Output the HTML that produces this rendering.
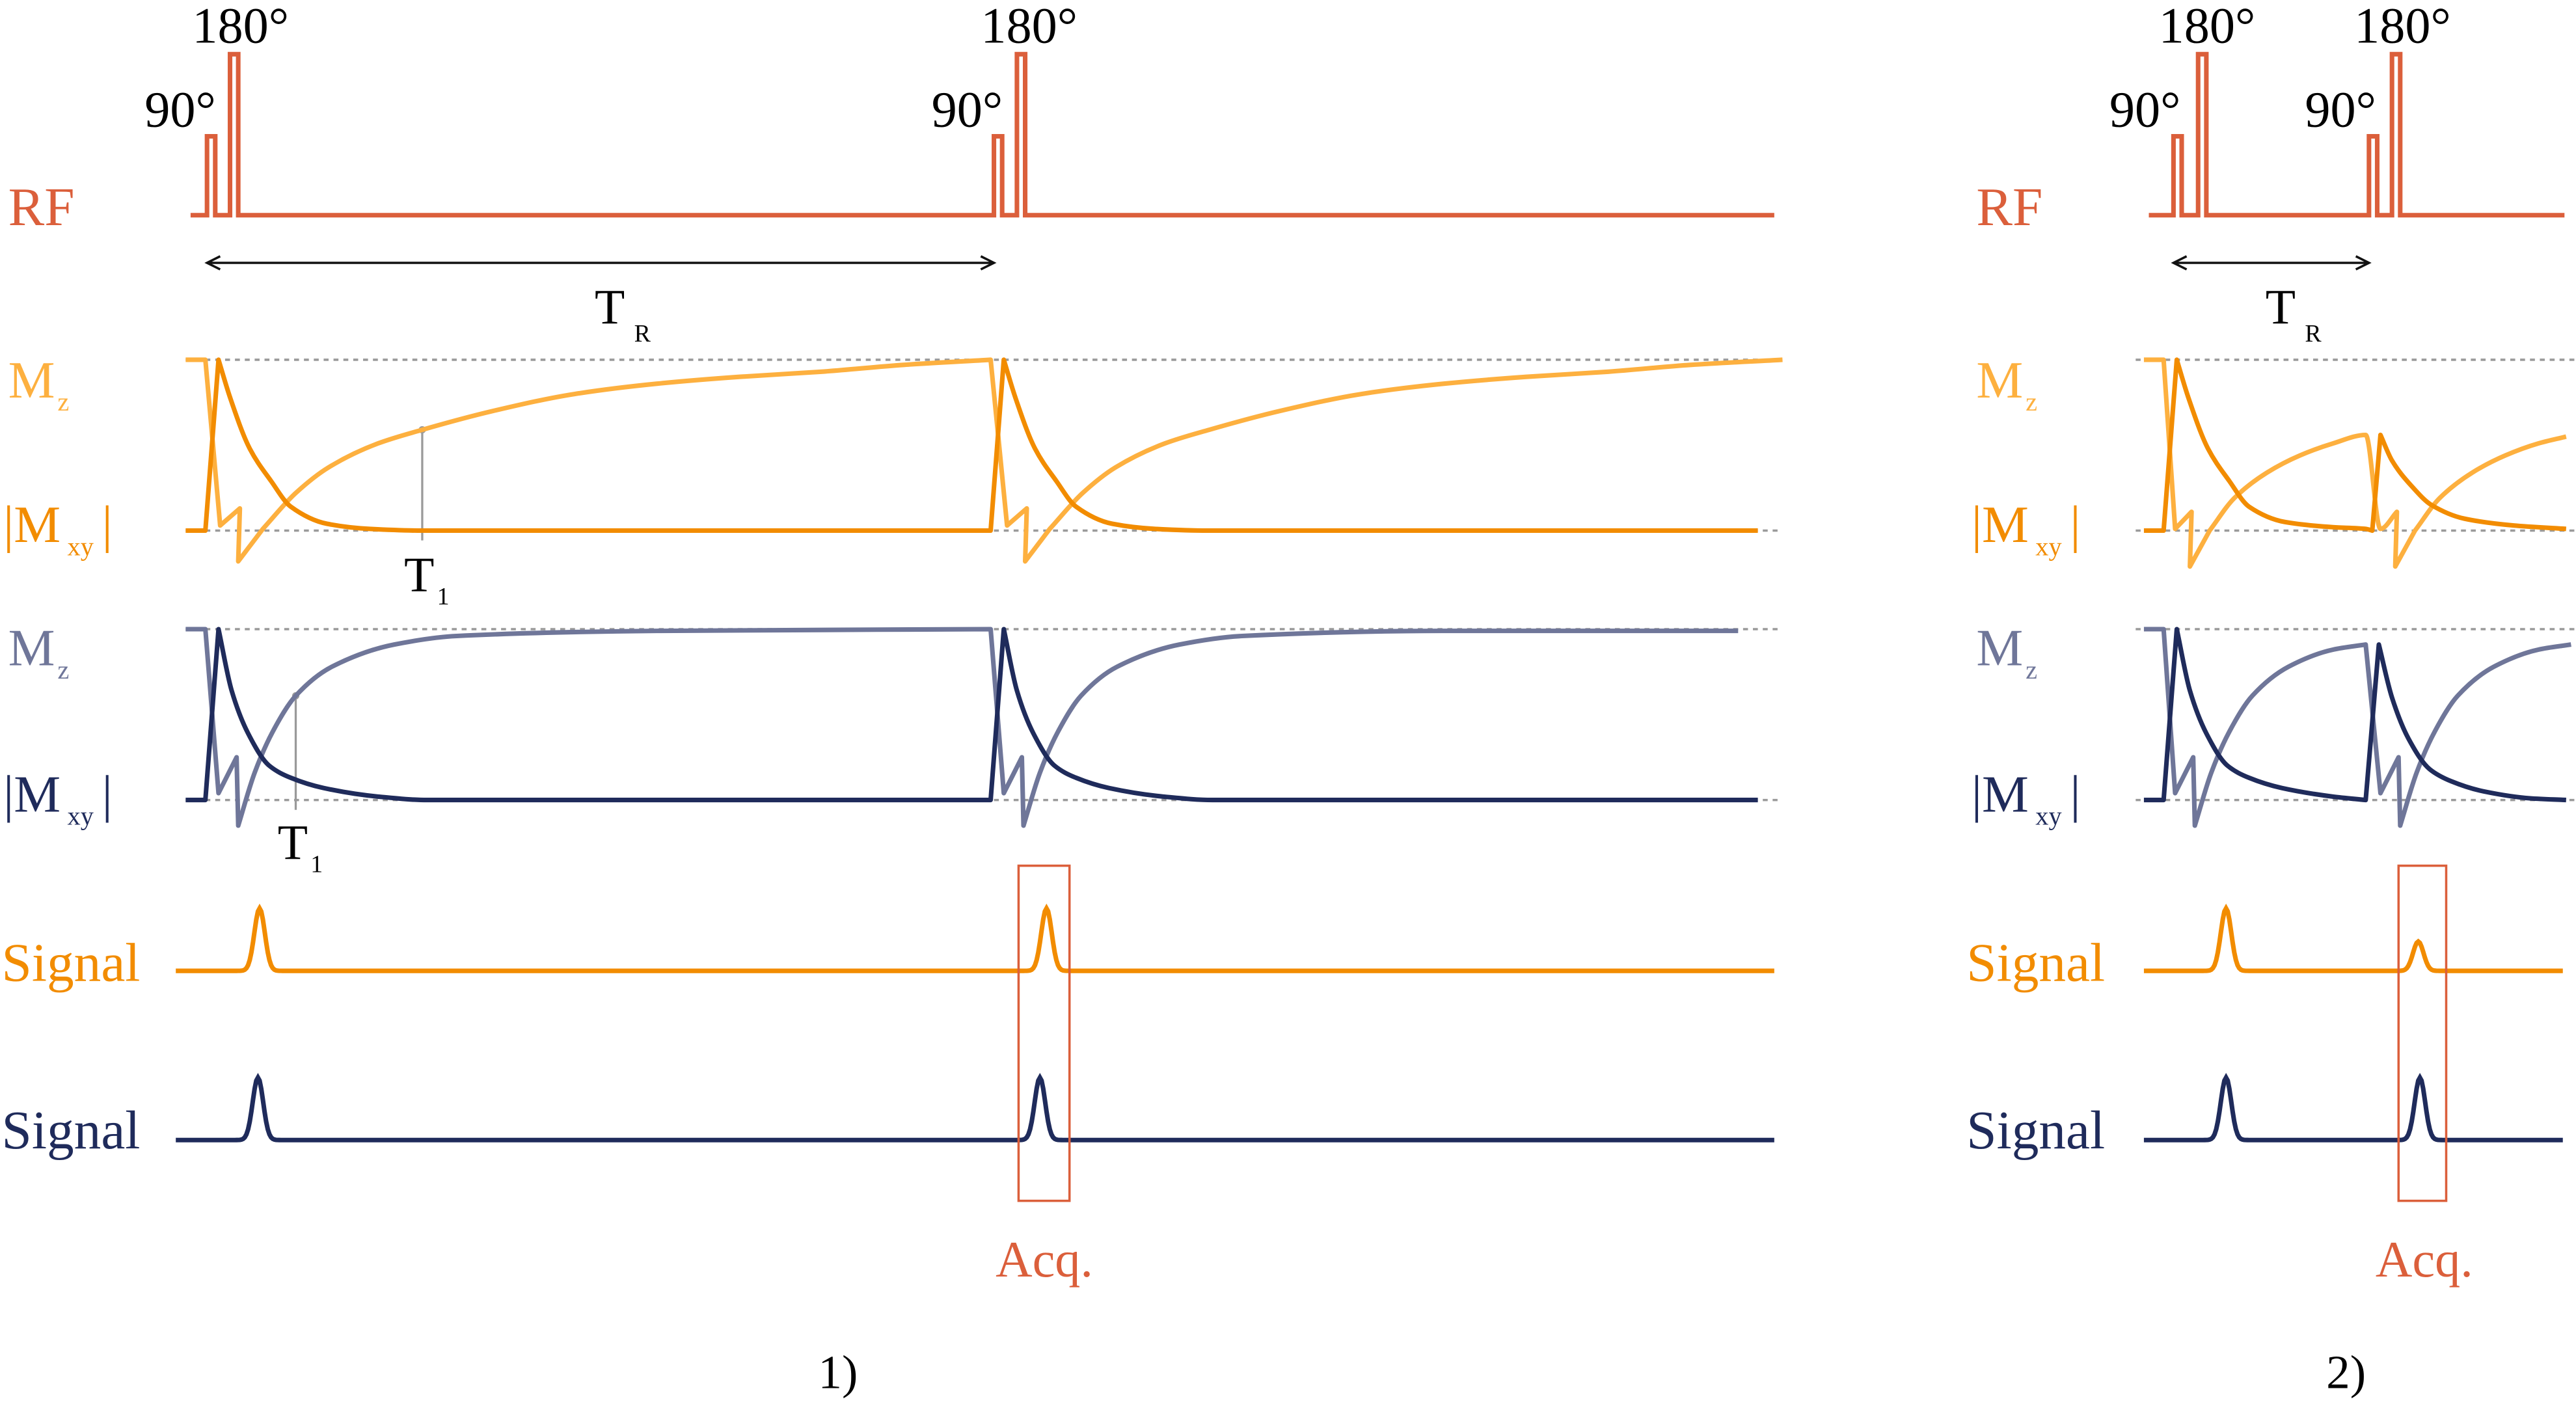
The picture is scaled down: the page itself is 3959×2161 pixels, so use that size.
<!DOCTYPE html>
<html><head><meta charset="utf-8"><style>
html,body{margin:0;padding:0;background:#fff;}
svg{display:block;}
text{font-family:"Liberation Serif",serif;}
</style></head><body>
<svg id="fig" xmlns="http://www.w3.org/2000/svg" width="3959" height="2161" viewBox="0 0 1568 855.9">
<g id="labels">
<text x="5" y="137" font-size="33" fill="#db5f3b">RF</text>
<text x="1203" y="137" font-size="33" fill="#db5f3b">RF</text>
<g fill="#fdb03f"><text x="5" y="242" font-size="32">M</text><text x="35" y="250" font-size="16">z</text></g>
<g fill="#f28c00"><text x="2" y="330" font-size="32">|M</text><text x="41" y="338" font-size="16">xy</text><text x="62" y="330" font-size="32">|</text></g>
<g fill="#6f7699"><text x="5" y="405" font-size="32">M</text><text x="35" y="413" font-size="16">z</text></g>
<g fill="#1f2b5b"><text x="2" y="494" font-size="32">|M</text><text x="41" y="502" font-size="16">xy</text><text x="62" y="494" font-size="32">|</text></g>
<g fill="#fdb03f"><text x="1203" y="242" font-size="32">M</text><text x="1233" y="250" font-size="16">z</text></g>
<g fill="#f28c00"><text x="1200" y="330" font-size="32">|M</text><text x="1239" y="338" font-size="16">xy</text><text x="1260" y="330" font-size="32">|</text></g>
<g fill="#6f7699"><text x="1203" y="405" font-size="32">M</text><text x="1233" y="413" font-size="16">z</text></g>
<g fill="#1f2b5b"><text x="1200" y="494" font-size="32">|M</text><text x="1239" y="502" font-size="16">xy</text><text x="1260" y="494" font-size="32">|</text></g>
<text x="1" y="597" font-size="33" fill="#f28c00">Signal</text>
<text x="1" y="699" font-size="33" fill="#1f2b5b">Signal</text>
<text x="1197" y="597" font-size="33" fill="#f28c00">Signal</text>
<text x="1197" y="699" font-size="33" fill="#1f2b5b">Signal</text>
<text x="88" y="77" font-size="31">90°</text>
<text x="117" y="26" font-size="31">180°</text>
<text x="567" y="77" font-size="31">90°</text>
<text x="597" y="26" font-size="31">180°</text>
<text x="1284" y="77" font-size="31">90°</text>
<text x="1314" y="26" font-size="31">180°</text>
<text x="1403" y="77" font-size="31">90°</text>
<text x="1433" y="26" font-size="31">180°</text>
<g><text x="362" y="197" font-size="30">T</text><text x="386" y="208" font-size="15">R</text></g>
<g><text x="1379" y="197" font-size="30">T</text><text x="1403" y="208" font-size="15">R</text></g>
<g><text x="246" y="360" font-size="30">T</text><text x="266" y="368" font-size="15">1</text></g>
<g><text x="169" y="523" font-size="30">T</text><text x="189" y="531" font-size="15">1</text></g>
<text x="606" y="777" font-size="31" fill="#db5f3b">Acq.</text>
<text x="1446" y="777" font-size="31" fill="#db5f3b">Acq.</text>
<text x="498" y="845" font-size="29">1)</text>
<text x="1416" y="845" font-size="29">2)</text>
</g>
<g id="marks"></g>
</svg>
<script>
// ---- data ----
const panelOrigins = [113, 1305];
const rfTimes1 = [13, 27, 492, 506];
const rfAmps1 = [0.49, 1, 0.49, 1];
const rfTimes2 = [18, 33, 137, 151];
const rfAmps2 = [0.49, 1, 0.49, 1];
const oMzT1 = [0,12,21,33,32,47,67,87,117,144,187,237,287,337,387,437,490,500,512,511,526,546,566,596,623,666,716,766,816,866,916,972];
const oMzV1 = [1,1,0.03,0.13,-0.18,0.01,0.22,0.37,0.51,0.59,0.70,0.80,0.86,0.90,0.93,0.97,1,0.03,0.13,-0.18,0.01,0.22,0.37,0.51,0.59,0.70,0.80,0.86,0.90,0.93,0.97,1];
const oMxyT1 = [0,12,20,27,39,52,64,86,112,144,490,498,505,517,530,542,564,590,622,957];
const oMxyV1 = [0,0,1,0.78,0.48,0.29,0.14,0.04,0.01,0,0,1,0.78,0.48,0.29,0.14,0.04,0.01,0,0];
const nMzT1 = [0,12,20,31,32,42,53,67,89,127,165,287,490,498,509,510,520,531,545,567,605,643,765,945];
const nMzV1 = [1,1,0.04,0.25,-0.15,0.16,0.40,0.61,0.78,0.91,0.96,0.99,1,0.04,0.25,-0.15,0.16,0.40,0.61,0.78,0.91,0.96,0.99,0.99];
const nMxyT1 = [0,12,20,28,38,51,64,84,117,147,490,498,506,516,529,542,562,595,625,957];
const nMxyV1 = [0,0,1,0.64,0.39,0.2,0.13,0.07,0.02,0,0,1,0.64,0.39,0.2,0.13,0.07,0.02,0,0];
const oMzT2 = [0,12,19,29,28,40,55,75,95,115,135,144,154,153,165,180,200,220,240,257];
const oMzV2 = [1,1,0.01,0.11,-0.21,0,0.19,0.34,0.44,0.51,0.56,0.01,0.11,-0.21,0,0.19,0.34,0.44,0.51,0.55];
const oMxyT2 = [0,12,20,27,39,52,64,86,115,135,139,144,151,163,175,195,225,257];
const oMxyV2 = [0,0,1,0.78,0.48,0.29,0.14,0.05,0.02,0.01,0,0.56,0.41,0.26,0.15,0.07,0.03,0.01];
const nMzT2 = [0,12,19,30,31,41,52,66,88,115,135,144,155,156,166,177,191,213,240,260];
const nMzV2 = [1,1,0.04,0.25,-0.15,0.16,0.40,0.61,0.78,0.88,0.91,0.04,0.25,-0.15,0.16,0.40,0.61,0.78,0.88,0.91];
const nMxyT2 = [0,12,20,28,38,51,64,84,115,135,143,151,161,174,187,207,235,257];
const nMxyV2 = [0,0,1,0.64,0.39,0.2,0.13,0.07,0.02,0,0.91,0.6,0.36,0.18,0.11,0.05,0.01,0];
const t1Times = [144, 67];
const t1Values = [0.59, 0.61];
const sigOT1 = [45, 524]; const sigOA1 = [1, 1];
const sigNT1 = [44, 520]; const sigNA1 = [1, 1];
const sigOT2 = [50, 167]; const sigOA2 = [1, 0.47];
const sigNT2 = [50, 168]; const sigNA2 = [1, 1];

const NS = "http://www.w3.org/2000/svg";
const marks = document.getElementById('marks');
const xS = (p, t) => panelOrigins[p] + t;
const yOrange = v => 323 - v * 104;
const yNavy = v => 487 - v * 104;
const C = {rf:'#db5f3b', oL:'#fdb03f', oD:'#f28c00', nL:'#6f7699', nD:'#1f2b5b', grid:'#9a9a9a'};
const SW = 2.8;

function mk(tag, attrs){ const e=document.createElementNS(NS,tag); for(const k in attrs) e.setAttribute(k,attrs[k]); marks.appendChild(e); return e; }

[[113,1085],[1300,1568]].forEach(([a,b])=>{
  [yOrange(1),yOrange(0),yNavy(1),yNavy(0)].forEach(y=>{
    const l=mk('line',{x1:a,x2:b,y1:y,y2:y,stroke:C.grid,'stroke-width':1.4,'stroke-dasharray':'3 3'});
    
    
  });
});

function rf(p, times, amps, end){
  const base=131, top=33, w=5;
  let d=`M${xS(p,0)+3},${base}`;
  times.forEach((t,i)=>{const x=xS(p,t); const y=base-(base-top)*amps[i]; d+=` L${x},${base} L${x},${y} L${x+w},${y} L${x+w},${base}`;});
  d+=` L${end},${base}`;
  const e=mk('path',{d,fill:'none',stroke:C.rf,'stroke-width':SW});
  
  
}
rf(0, rfTimes1, rfAmps1, 1080);
rf(1, rfTimes2, rfAmps2, 1561);

function arrow(x1,x2,y){
  const g=mk('path',{d:`M${x1},${y} L${x2},${y} M${x1+8},${y-4} L${x1},${y} L${x1+8},${y+4} M${x2-8},${y-4} L${x2},${y} L${x2-8},${y+4}`,fill:'none',stroke:'#111','stroke-width':1.4});
  
  
}
arrow(xS(0,rfTimes1[0]), xS(0,rfTimes1[2]), 160);
arrow(xS(1,rfTimes2[0]), xS(1,rfTimes2[2]), 160);

// monotone cubic path through points (x increasing)
function monoPath(pts, first){
  let d = first ? `M${pts[0][0]},${pts[0][1]}` : '';
  const n=pts.length;
  if(n<3){ for(let i=1;i<n;i++) d+=` L${pts[i][0]},${pts[i][1]}`; return d; }
  const dx=[],s=[];
  for(let i=0;i<n-1;i++){dx[i]=pts[i+1][0]-pts[i][0]; s[i]=(pts[i+1][1]-pts[i][1])/dx[i];}
  const m=[s[0]];
  for(let i=1;i<n-1;i++){ if(s[i-1]*s[i]<=0) m[i]=0; else { const w1=2*dx[i]+dx[i-1], w2=dx[i]+2*dx[i-1]; m[i]=(w1+w2)/(w1/s[i-1]+w2/s[i]); } }
  m[n-1]=s[n-2];
  for(let i=0;i<n-1;i++){
    const h=dx[i]/3;
    d+=` C${pts[i][0]+h},${pts[i][1]+m[i]*h} ${pts[i+1][0]-h},${pts[i+1][1]-m[i+1]*h} ${pts[i+1][0]},${pts[i+1][1]}`;
  }
  return d;
}
function curve(p, T, V, ys, col, name){
  const pts=T.map((t,i)=>[xS(p,t), ys(V[i])]);
  // split into smooth runs: break at steep jumps or non-increasing x
  let d=`M${pts[0][0]},${pts[0][1]}`;
  let run=[pts[0]];
  const flush=()=>{ if(run.length>1) d+=monoPath(run,false); };
  for(let i=1;i<pts.length;i++){
    const ddx=pts[i][0]-pts[i-1][0], ddy=Math.abs(pts[i][1]-pts[i-1][1]);
    const jump = ddx<=0 || ddy/ddx>9 || (i>=2 && (pts[i-1][0]-pts[i-2][0]<=0));
    if(jump){ flush(); d+=` L${pts[i][0]},${pts[i][1]}`; run=[pts[i]]; }
    else run.push(pts[i]);
  }
  flush();
  const e=mk('path',{d,fill:'none',stroke:col,'stroke-width':SW,'stroke-linejoin':'round'});
  
  
}
const t1m = [[0,t1Times[0],t1Values[0],yOrange],[0,t1Times[1],t1Values[1],yNavy]];
t1m.forEach(([p,t,v,ys])=>{
  const x=xS(p,t);
  const l=mk('line',{x1:x,x2:x,y1:ys(v),y2:ys(0)+6,stroke:C.grid,'stroke-width':1.3});
  
  
  const c=mk('circle',{cx:x,cy:ys(v),r:2.2,fill:C.grid});
  
  
});
curve(0,oMzT1,oMzV1,yOrange,C.oL,'mz-orange-1');
curve(0,oMxyT1,oMxyV1,yOrange,C.oD,'mxy-orange-1');
curve(0,nMzT1,nMzV1,yNavy,C.nL,'mz-navy-1');
curve(0,nMxyT1,nMxyV1,yNavy,C.nD,'mxy-navy-1');
curve(1,oMzT2,oMzV2,yOrange,C.oL,'mz-orange-2');
curve(1,oMxyT2,oMxyV2,yOrange,C.oD,'mxy-orange-2');
curve(1,nMzT2,nMzV2,yNavy,C.nL,'mz-navy-2');
curve(1,nMxyT2,nMxyV2,yNavy,C.nD,'mxy-navy-2');

function signal(p, peaks, amps, base, col, x0, x1, name){
  let d=`M${x0},${base}`;
  for(let x=x0;x<=x1;x+=1){
    let y=base;
    peaks.forEach((t,i)=>{const dx=x-xS(p,t); y-=38*amps[i]*Math.exp(-dx*dx/(2*3.2*3.2));});
    d+=` L${x},${y.toFixed(2)}`;
  }
  const e=mk('path',{d,fill:'none',stroke:col,'stroke-width':SW});
  
  
}
signal(0,sigOT1,sigOA1,591,C.oD,107,1080,'signal-orange-1');
signal(0,sigNT1,sigNA1,694,C.nD,107,1080,'signal-navy-1');
signal(1,sigOT2,sigOA2,591,C.oD,1305,1560,'signal-orange-2');
signal(1,sigNT2,sigNA2,694,C.nD,1305,1560,'signal-navy-2');

[[620,651],[1460,1489]].forEach(([a,b])=>{
  const r=mk('rect',{x:a,y:527,width:b-a,height:204,fill:'none',stroke:C.rf,'stroke-width':1.4});
  
  
});
</script>
</body></html>
